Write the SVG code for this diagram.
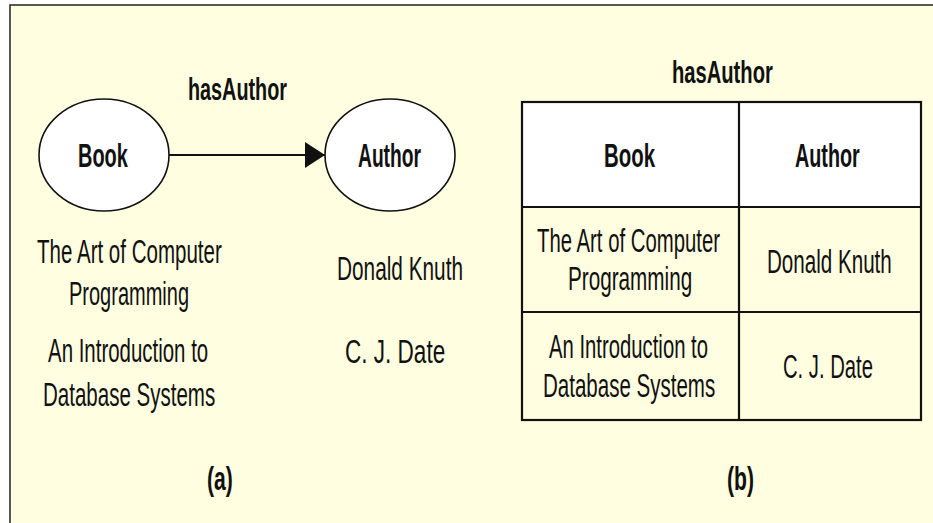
<svg xmlns="http://www.w3.org/2000/svg" width="933" height="523" viewBox="0 0 933 523">
  <defs>
    <style>
      text { font-family: "Liberation Sans", Arial, sans-serif; fill: #111; }
      .h { font-weight: bold; font-size: 31px; }
      .b { font-weight: bold; font-size: 33px; }
      .r { font-size: 34px; }
      .lbl { font-weight: bold; font-size: 34px; }
      .node { fill: #ffffff; stroke: #111; stroke-width: 1.6; }
      .edge { stroke: #111; stroke-width: 2; fill: none; }
      .grid { stroke: #111; stroke-width: 2.2; fill: none; }
    </style>
    <marker id="arrow" markerUnits="userSpaceOnUse" markerWidth="22" markerHeight="28" refX="20" refY="13" orient="auto">
      <path d="M0,0 L20,13 L0,26 Z" fill="#111"/>
    </marker>
  </defs>

  <rect x="0" y="0" width="933" height="523" fill="#ffffff"/>
  <rect x="10" y="5" width="930" height="530" fill="#fffee0"/>
  <path d="M10,523 L10,5 L933,5" fill="none" stroke="#222" stroke-width="1.5"/>

  <!-- (a) graph -->
  <g id="connectors">
    <line class="edge" x1="169" y1="155" x2="325" y2="155" marker-end="url(#arrow)"/>
    <text class="h" transform="translate(188,100) scale(0.6,1)" textLength="165" lengthAdjust="spacingAndGlyphs">hasAuthor</text>
  </g>

  <g id="node-book">
    <ellipse class="node" cx="104" cy="155" rx="65" ry="56"/>
    <text class="b" transform="translate(78,167) scale(0.6,1)" textLength="83" lengthAdjust="spacingAndGlyphs">Book</text>
  </g>

  <g id="node-author">
    <ellipse class="node" cx="390" cy="155" rx="65" ry="56"/>
    <text class="b" transform="translate(358,167) scale(0.6,1)" textLength="105" lengthAdjust="spacingAndGlyphs">Author</text>
  </g>

  <g id="instances-book">
    <text class="r" transform="translate(37,263) scale(0.6,1)" textLength="308" lengthAdjust="spacingAndGlyphs">The Art of Computer</text>
    <text class="r" transform="translate(69,305) scale(0.6,1)" textLength="200" lengthAdjust="spacingAndGlyphs">Programming</text>
    <text class="r" transform="translate(48,362) scale(0.6,1)" textLength="267" lengthAdjust="spacingAndGlyphs">An Introduction to</text>
    <text class="r" transform="translate(43,406) scale(0.6,1)" textLength="287" lengthAdjust="spacingAndGlyphs">Database Systems</text>
  </g>

  <g id="instances-author">
    <text class="r" transform="translate(337,280) scale(0.6,1)" textLength="210" lengthAdjust="spacingAndGlyphs">Donald Knuth</text>
    <text class="r" transform="translate(345,363) scale(0.6,1)" textLength="167" lengthAdjust="spacingAndGlyphs">C. J. Date</text>
  </g>

  <g id="caption-a">
    <text class="lbl" transform="translate(207,490) scale(0.6,1)" textLength="43" lengthAdjust="spacingAndGlyphs">(a)</text>
  </g>

  <!-- (b) table -->
  <g id="table">
    <text class="h" transform="translate(672,83) scale(0.6,1)" textLength="168" lengthAdjust="spacingAndGlyphs">hasAuthor</text>
    <rect x="522" y="102" width="399" height="105" fill="#ffffff"/>
    <rect class="grid" x="522" y="102" width="399" height="318"/>
    <line class="grid" x1="739" y1="102" x2="739" y2="420"/>
    <line class="grid" x1="522" y1="207" x2="921" y2="207"/>
    <line class="grid" x1="522" y1="312" x2="921" y2="312"/>

    <text class="b" transform="translate(604,167) scale(0.6,1)" textLength="85" lengthAdjust="spacingAndGlyphs">Book</text>
    <text class="b" transform="translate(795,167) scale(0.6,1)" textLength="108" lengthAdjust="spacingAndGlyphs">Author</text>

    <text class="r" transform="translate(537,252) scale(0.6,1)" textLength="305" lengthAdjust="spacingAndGlyphs">The Art of Computer</text>
    <text class="r" transform="translate(568,290) scale(0.6,1)" textLength="207" lengthAdjust="spacingAndGlyphs">Programming</text>
    <text class="r" transform="translate(767,273) scale(0.6,1)" textLength="208" lengthAdjust="spacingAndGlyphs">Donald Knuth</text>

    <text class="r" transform="translate(549,358) scale(0.6,1)" textLength="265" lengthAdjust="spacingAndGlyphs">An Introduction to</text>
    <text class="r" transform="translate(543,397) scale(0.6,1)" textLength="287" lengthAdjust="spacingAndGlyphs">Database Systems</text>
    <text class="r" transform="translate(783,378) scale(0.6,1)" textLength="150" lengthAdjust="spacingAndGlyphs">C. J. Date</text>
  </g>

  <g id="caption-b">
    <text class="lbl" transform="translate(727,490) scale(0.6,1)" textLength="45" lengthAdjust="spacingAndGlyphs">(b)</text>
  </g>
</svg>
